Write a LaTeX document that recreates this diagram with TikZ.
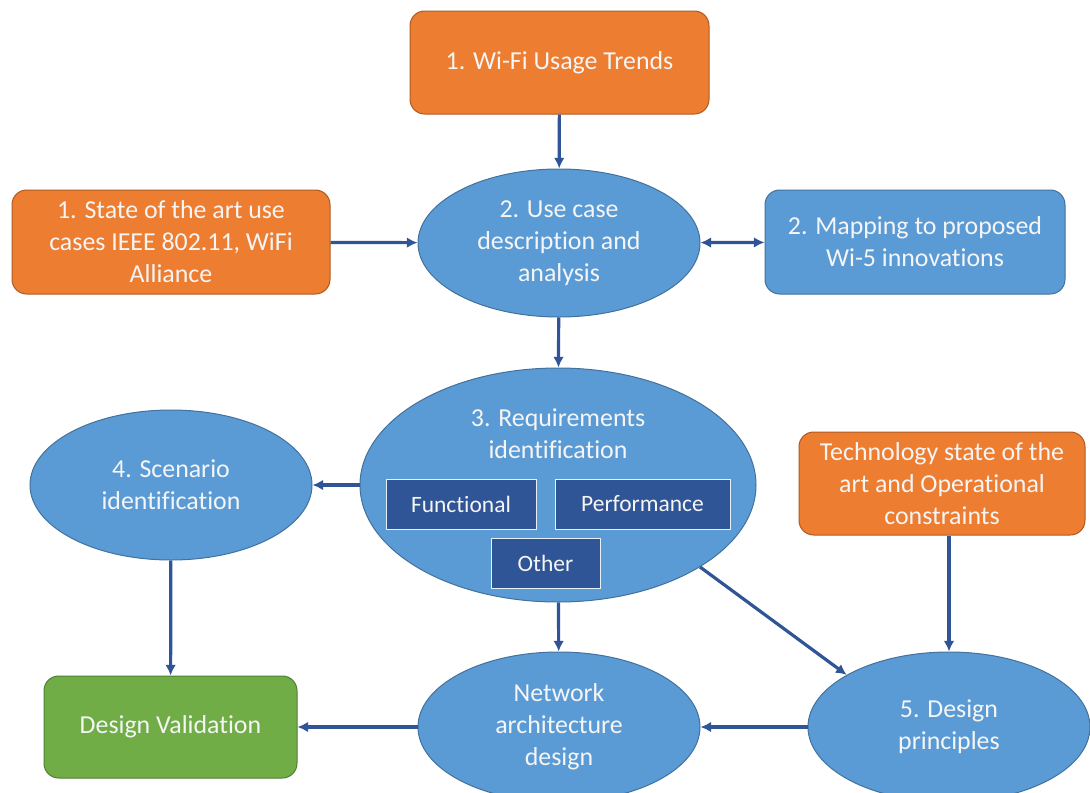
\documentclass[tikz,border=0pt]{standalone}
\usepackage{fontspec}
\setmainfont{Carlito}[Ligatures=NoCommon]
\usetikzlibrary{shapes.geometric,arrows.meta}
\definecolor{orangeF}{HTML}{ED7D31}
\definecolor{orangeB}{HTML}{AE5A21}
\definecolor{blueF}{HTML}{5B9BD5}
\definecolor{blueB}{HTML}{41719C}
\definecolor{darkF}{HTML}{2F5597}
\definecolor{greenF}{HTML}{70AD47}
\definecolor{greenB}{HTML}{507E32}
\definecolor{arrowC}{HTML}{2F5597}
\definecolor{txt}{HTML}{F5F5F5}
\begin{document}
\begin{tikzpicture}[x=0.75pt,y=-0.75pt,
  every node/.style={text=txt,font=\fontsize{19.4}{24}\selectfont,align=center},
  obox/.style={draw=orangeB,fill=orangeF,line width=0.75pt,rounded corners=11pt,rectangle,inner sep=0pt},
  bbox/.style={draw=blueB,fill=blueF,line width=0.75pt,rounded corners=11pt,rectangle,inner sep=0pt},
  gbox/.style={draw=greenB,fill=greenF,line width=0.75pt,rounded corners=11pt,rectangle,inner sep=0pt},
  ell/.style={draw=blueB,fill=blueF,line width=0.75pt,ellipse,inner sep=0pt},
  sub/.style={draw=white!85!blueF,fill=darkF,line width=0.75pt,rectangle,inner sep=0pt,font=\fontsize{17.6}{21}\selectfont},
  arr/.style={draw=arrowC,line width=2.4pt,-{Latex[length=8pt,width=8pt]}},
  arrb/.style={draw=arrowC,line width=2.4pt,{Latex[length=8pt,width=8pt]}-{Latex[length=8pt,width=8pt]}}
]
\useasboundingbox (0,0) rectangle (1090,793);
\node[obox,minimum width=299*0.75pt,minimum height=103*0.75pt] (trends) at (559.5,62.5) {1. Wi-Fi Usage Trends};
\node[obox,minimum width=318*0.75pt,minimum height=104*0.75pt] (soa) at (171,242) {1. State of the art use\\cases IEEE 802.11, WiFi\\Alliance};
\node[ell,minimum width=282*0.75pt,minimum height=148*0.75pt] (e2) at (559,243) {2. Use case\\description and\\analysis};
\node[bbox,minimum width=300*0.75pt,minimum height=104*0.75pt] (map) at (915,242) {2. Mapping to proposed\\Wi-5 innovations};
\node[ell,minimum width=396*0.75pt,minimum height=234*0.75pt] (e3) at (558,485) {};
\node (e3t) at (558,434) {3. Requirements\\identification};
\node[sub,minimum width=150*0.75pt,minimum height=50*0.75pt] (func) at (461,504) {Functional};
\node[sub,minimum width=175*0.75pt,minimum height=50*0.75pt] (perf) at (642.5,504) {Performance};
\node[sub,minimum width=109*0.75pt,minimum height=50*0.75pt] (other) at (545.5,563) {Other};
\node[ell,minimum width=282*0.75pt,minimum height=150*0.75pt] (e4) at (171,485) {4. Scenario\\identification};
\node[obox,minimum width=286*0.75pt,minimum height=103*0.75pt] (tech) at (942,483.5) {Technology state of the\\art and Operational\\constraints};
\node[ell,minimum width=282*0.75pt,minimum height=150*0.75pt] (e5) at (949,727) {5. Design\\principles};
\node[ell,minimum width=282*0.75pt,minimum height=150*0.75pt] (net) at (559,727) {Network\\architecture\\design};
\node[gbox,minimum width=253*0.75pt,minimum height=102*0.75pt] (dv) at (170.5,727) {Design Validation};
\draw[arr] (trends) -- (e2);
\draw[arr] (soa) -- (e2);
\draw[arrb] (e2) -- (map);
\draw[arr] (e2) -- (e3);
\draw[arr] (e3.west) -- (e4.east);
\draw[arr] (e4) -- (dv);
\draw[arr] (e3) -- (net);
\draw[arr] (e3.-30.7) -- (e5.153);
\draw[arr] (e5.north |- tech.south) -- (e5.north);
\draw[arr] (e5) -- (net);
\draw[arr] (net) -- (dv);
\end{tikzpicture}
\end{document}
